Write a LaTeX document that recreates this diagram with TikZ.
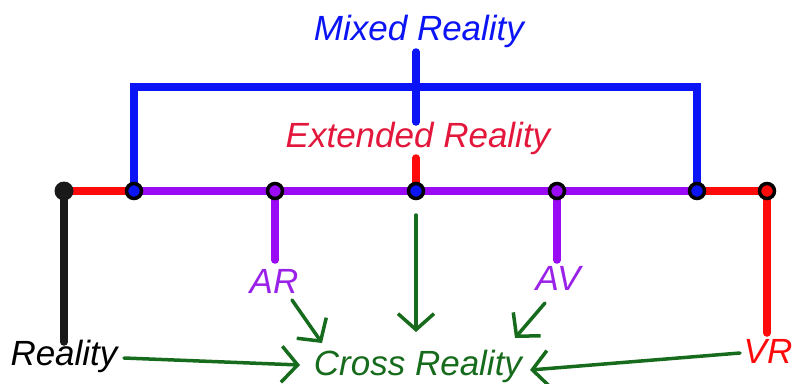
\documentclass[tikz,border=0pt]{standalone}
\usepackage{fontspec}
\setmainfont{Liberation Sans}
\usetikzlibrary{arrows.meta}
\definecolor{mrblue}{HTML}{0A14F5}
\definecolor{xrred}{HTML}{FF0A0A}
\definecolor{xrtext}{HTML}{E3173C}
\definecolor{vpurple}{HTML}{9B0AF5}
\definecolor{ptext}{HTML}{9A22E8}
\definecolor{xgreen}{HTML}{176B1C}
\tikzset{
  lbl/.style={font=\fontsize{35}{38}\selectfont\itshape, inner sep=0pt, anchor=base},
  bar/.style={line width=7.5pt, line cap=round},
  dot/.style={circle, draw=black, line width=3.5pt, minimum size=15pt, inner sep=0pt},
  garrow/.style={draw=xgreen, line width=3.5pt, line cap=round,
    -{Straight Barb[length=16pt,width=36pt,line width=3.5pt]}}
}
\begin{document}
\begin{tikzpicture}[x=1pt,y=-1pt]
\useasboundingbox (0,0) rectangle (792,383);
% coordinates of the scale
\coordinate (p0) at (64,191);
\coordinate (p1) at (134,191);
\coordinate (p2) at (275,191);
\coordinate (p3) at (416,191);
\coordinate (p4) at (557,191);
\coordinate (p5) at (697,191);
\coordinate (p6) at (767,191);
% labels
\node[lbl, text=mrblue] (mr) at (419,40) {Mixed Reality};
\node[lbl, text=xrtext] (xr) at (418,147) {Extended Reality};
\node[lbl, text=black] (real) at (64,365) {Reality};
\node[lbl, text=ptext] (ar) at (274,293) {AR};
\node[lbl, text=ptext] (av) at (558,290) {AV};
\node[lbl, text=xrred] (vr) at (768,363) {VR};
\node[lbl, text=xgreen] (cr) at (418,375) {Cross Reality};
% blue bracket
\draw[bar, mrblue, line cap=butt, line join=miter] (p1) -- (134,87) -- (697,87) -- (p5);
\draw[bar, mrblue] (416,52) -- (416,122);
% red stub
\draw[bar, xrred] (416,158) -- (p3);
% main line
\draw[line width=8pt, xrred] (p0) -- (p1);
\draw[line width=8pt, vpurple] (p1) -- (p5);
\draw[line width=8pt, xrred] (p5) -- (p6);
% stems
\coordinate (s0) at (64,342);
\coordinate (s2) at (275,260);
\coordinate (s4) at (557,260);
\coordinate (s6) at (767,333);
\draw[bar, black!90] (p0) -- (s0);
\draw[bar, vpurple] (p2) -- (s2);
\draw[bar, vpurple] (p4) -- (s4);
\draw[bar, xrred] (p6) -- (s6);
% dots
\node[circle, fill=black!90, minimum size=19pt, inner sep=0pt] (d0) at (p0) {};
\node[dot, fill=mrblue] (d1) at (p1) {};
\node[dot, fill=vpurple] (d2) at (p2) {};
\node[dot, fill=mrblue] (d3) at (p3) {};
\node[dot, fill=vpurple] (d4) at (p4) {};
\node[dot, fill=mrblue] (d5) at (p5) {};
\node[dot, fill=xrred] (d6) at (p6) {};
% green arrows
\coordinate (a1s) at (124,358);
\coordinate (a1e) at (300,365);
\coordinate (a2s) at (292,300);
\coordinate (a2e) at (322,343);
\coordinate (a3s) at (416,215);
\coordinate (a3e) at (416,332);
\coordinate (a4s) at (545,303);
\coordinate (a4e) at (515,338);
\coordinate (a5s) at (740,353);
\coordinate (a5e) at (530,370);
\draw[garrow] (a1s) -- (a1e);
\draw[garrow] (a2s) -- (a2e);
\draw[garrow] (a3s) -- (a3e);
\draw[garrow] (a4s) -- (a4e);
\draw[garrow] (a5s) -- (a5e);
\end{tikzpicture}
\end{document}
